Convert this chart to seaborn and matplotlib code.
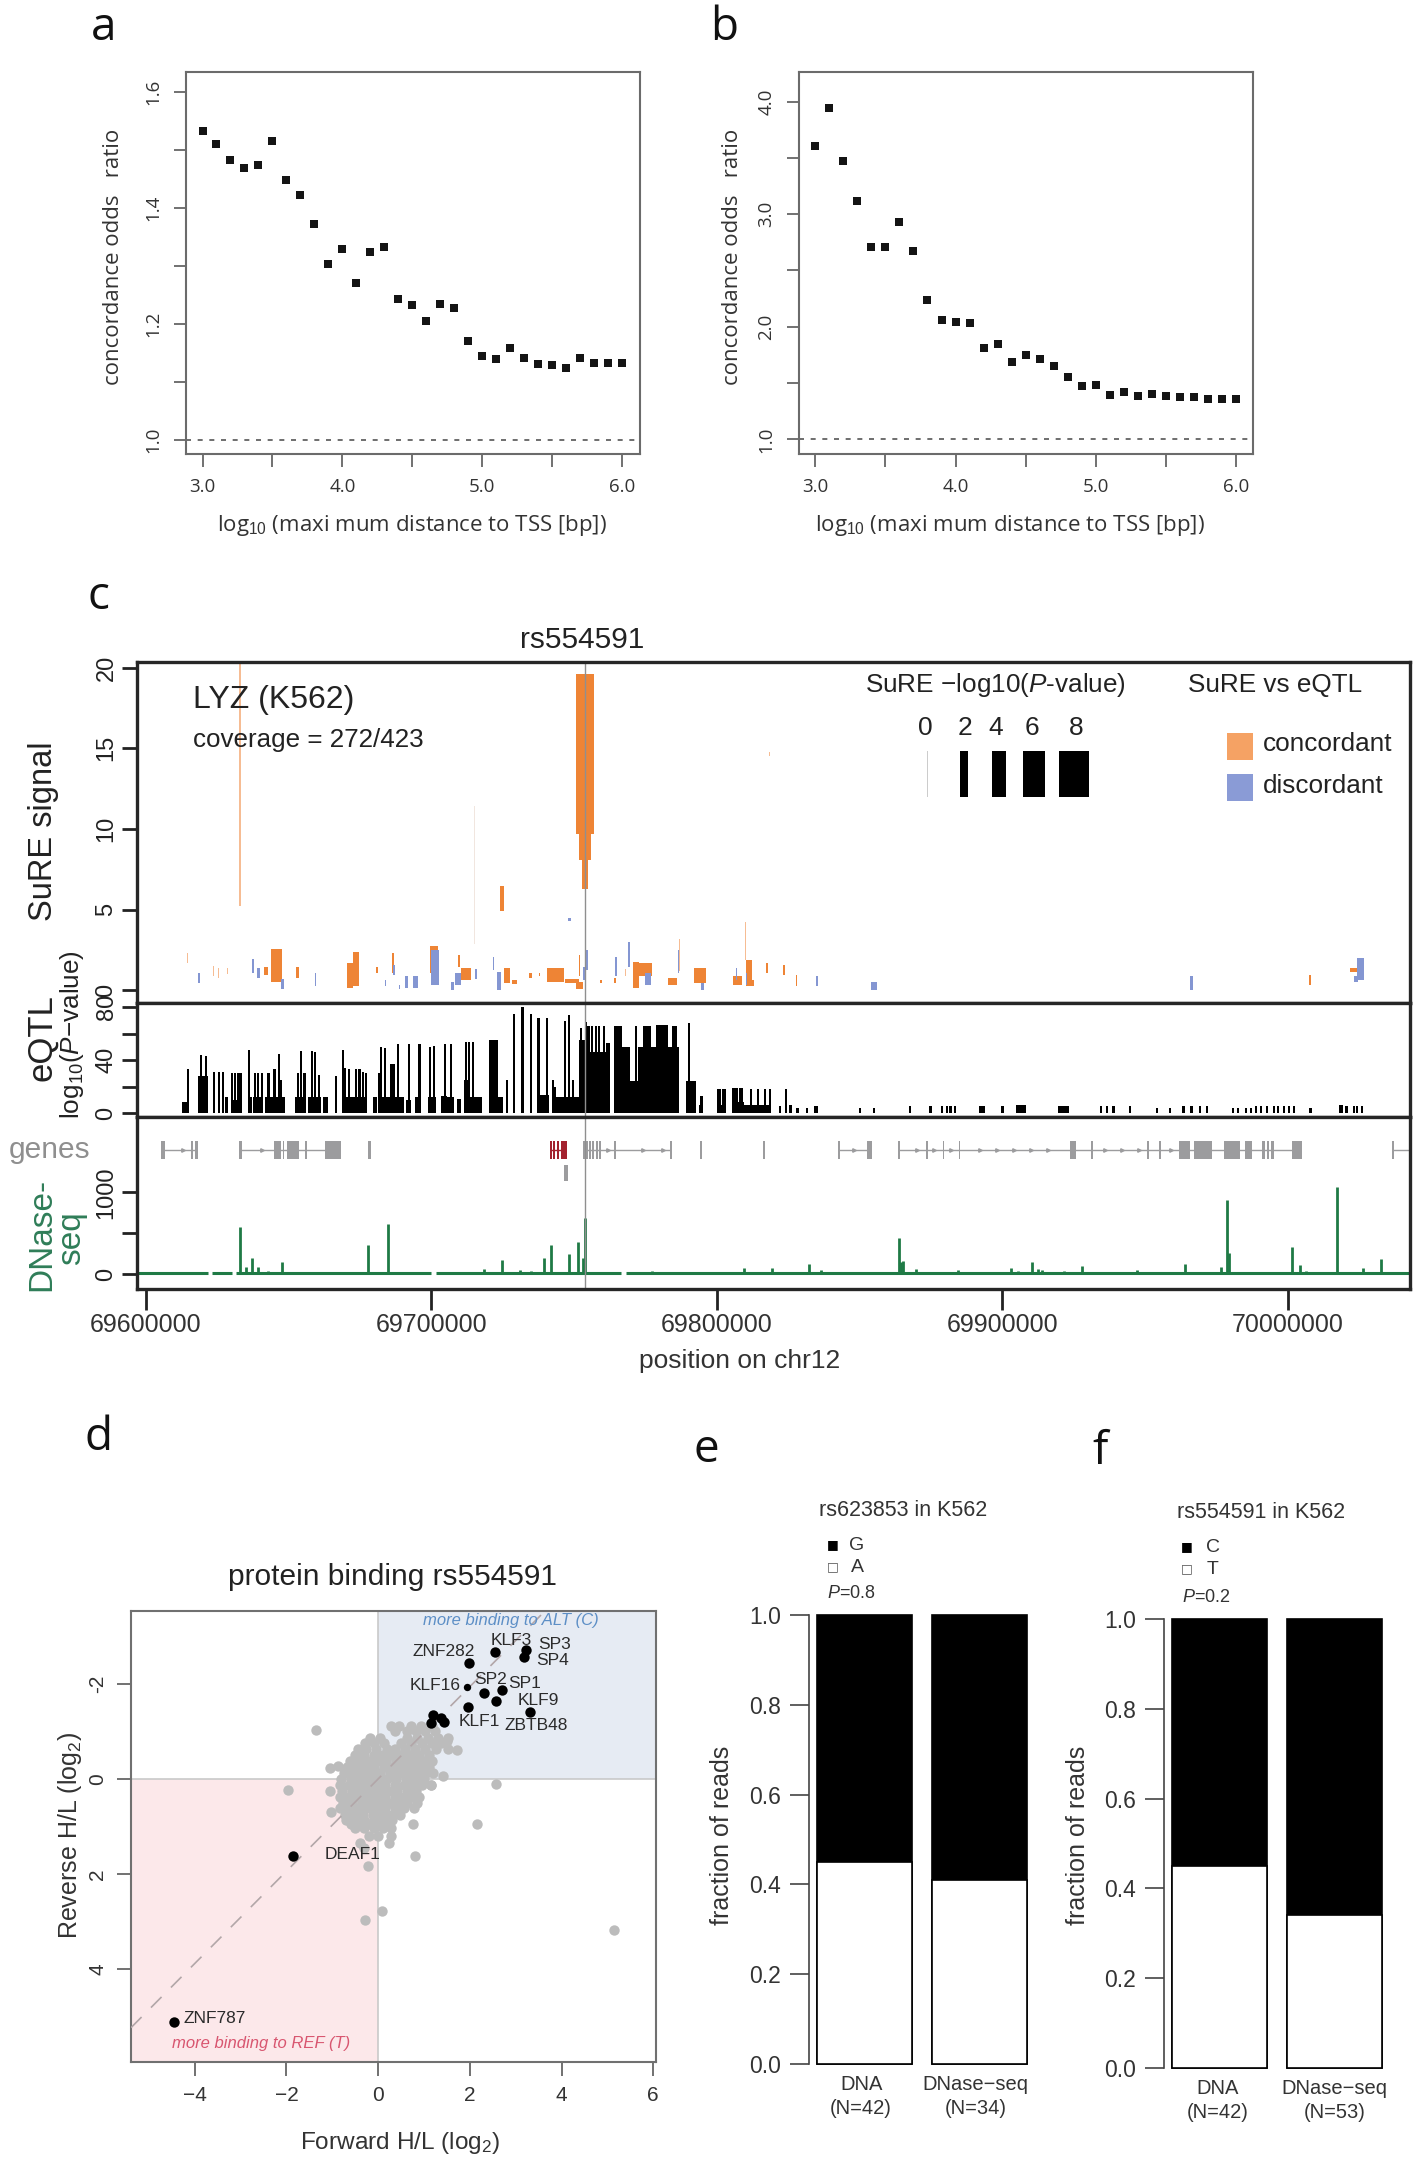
import matplotlib
matplotlib.use('Agg')
import matplotlib.pyplot as plt
import numpy as np
import pandas as pd
import seaborn as sns

W, H = 1428, 2162

dist = [3.0, 3.1, 3.2, 3.3, 3.4, 3.5, 3.6, 3.7, 3.8, 3.9, 4.0, 4.1, 4.2, 4.3, 4.4, 4.5,
        4.6, 4.7, 4.8, 4.9, 5.0, 5.1, 5.2, 5.3, 5.4, 5.5, 5.6, 5.7, 5.8, 5.9, 6.0]
odds_a = [1.533, 1.510, 1.483, 1.469, 1.474, 1.516, 1.448, 1.422, 1.373, 1.303, 1.329,
          1.271, 1.324, 1.332, 1.242, 1.232, 1.205, 1.235, 1.227, 1.170, 1.144, 1.140,
          1.158, 1.141, 1.130, 1.129, 1.124, 1.141, 1.132, 1.132, 1.132]
odds_b = [3.606, 3.940, 3.473, 3.117, 2.711, 2.708, 2.927, 2.670, 2.235, 2.063, 2.044,
          2.038, 1.813, 1.844, 1.686, 1.746, 1.714, 1.651, 1.556, 1.476, 1.483, 1.390,
          1.425, 1.381, 1.403, 1.384, 1.378, 1.378, 1.359, 1.362, 1.362]

# panel c: everything in kb after 69,600,000
rs_kb = 153.75

con_kb = [153.7, 153.7, 153.7, 124.8, 45.7, 53.1, 42.1, 73.5, 71.4, 86.5, 81.0, 100.8,
          109.7, 112.1, 126.5, 129.0, 134.6, 137.8, 143.4, 149.1, 151.8, 151.8, 171.6, 174.8,
          164.3, 184.4, 194.1, 159.5, 211.2, 207.1, 212.3, 217.4, 223.4, 227.9, 407.7, 423.0]
con_wd = [6.4, 2.2, 4.0, 1.3, 3.9, 0.8, 1.3, 1.9, 1.9, 0.5, 0.6, 2.9,
          0.6, 3.5, 2.2, 1.9, 1.0, 0.6, 6.1, 4.8, 2.2, 0.6, 2.2, 4.8,
          1.0, 3.2, 4.2, 0.6, 2.3, 3.2, 1.6, 0.6, 0.6, 0.5, 0.5, 2.3]
con_lo = [9.7, 6.3, 8.1, 4.9, 0.55, 0.76, 0.97, 0.25, 0.15, 1.07, 1.07, 1.07,
          1.48, 0.66, 0.45, 0.41, 0.76, 0.87, 0.55, 0.49, 0.08, 0.87, 0.14, 0.87,
          0.45, 0.35, 0.45, 0.45, 0.25, 0.35, 0.25, 1.07, 0.97, 0.25, 0.35, 1.17]
con_hi = [19.6, 9.7, 9.7, 6.5, 2.55, 1.48, 1.48, 2.4, 1.7, 2.29, 1.48, 2.76,
          2.2, 1.38, 1.38, 0.62, 1.07, 1.07, 1.38, 0.70, 0.55, 2.19, 1.79, 1.69,
          0.76, 0.76, 1.38, 0.66, 1.9, 0.87, 0.66, 1.69, 1.59, 0.97, 0.97, 1.38]

faint_kb = [32.8, 209.9, 14.5, 23.5, 25.5, 28.5, 218.5, 168.0, 187.0]
faint_wd = [0.7, 0.35, 0.25, 0.3, 0.3, 0.3, 0.4, 0.3, 0.3]
faint_lo = [5.2, 1.9, 1.7, 0.9, 0.8, 1.0, 14.5, 0.9, 1.2]
faint_hi = [20.35, 4.27, 2.3, 1.5, 1.4, 1.4, 14.8, 1.3, 3.2]
pale_kb = [115.0]
pale_wd = [0.2]
pale_lo = [2.9]
pale_hi = [11.4]

dis_kb = [18.5, 37.6, 39.4, 47.8, 59.5, 86.8, 83.9, 88.8, 91.2, 94.4, 101.3, 107.3, 109.3, 115.6,
          123.7, 121.7, 154.4, 153.4, 169.2, 164.7, 175.9, 186.5, 194.9, 206.8, 210.4, 235.1,
          255.0, 366.2, 425.4, 423.8, 148.3]
dis_wd = [0.8, 0.6, 1.0, 1.3, 0.3, 0.6, 0.6, 0.6, 1.3, 1.9, 2.9, 1.0, 1.9, 1.0,
          1.6, 0.3, 1.0, 0.5, 0.5, 0.5, 2.3, 0.5, 1.0, 0.5, 0.5, 0.5,
          2.3, 1.0, 2.3, 1.6, 1.3]
dis_lo = [0.45, 1.07, 0.76, 0.08, 0.25, 0.97, 0.25, 0.08, 0.14, 0.14, 0.35, 0.04, 0.35, 0.70,
          0.04, 1.28, 1.28, 0.66, 1.48, 0.87, 0.35, 1.07, 0.04, 0.66, 0.35, 0.25,
          0.04, 0.0, 0.66, 0.55, 4.3]
dis_hi = [1.07, 1.94, 1.38, 0.70, 1.07, 1.59, 0.66, 0.35, 0.87, 0.87, 2.52, 0.55, 1.07, 1.32,
          1.17, 2.1, 2.52, 1.48, 3.0, 2.1, 1.07, 2.52, 0.45, 1.38, 1.07, 0.87,
          0.55, 0.87, 2.0, 0.87, 4.5]

pval_labels = ['0', '2', '4', '6', '8']
pval_kb = [273.7, 286.5, 298.8, 311.0, 325.1]
pval_wd = [0.1, 2.6, 5.2, 7.8, 10.4]

# dense parts of the eQTL track
block_kb = [13.9, 19.8, 28.1, 32.0, 36.7, 39.2, 45.2, 53.9, 59.0, 63.0, 73.0, 80.2, 85.9, 92.0,
            95.4, 100.2, 104.4, 106.8, 109.7, 112.6, 115.1, 121.7, 122.5, 139.4, 143.8, 148.3,
            153.1, 157.9, 161.9, 165.3, 167.9, 170.9, 179.6, 175.4, 180.7, 185.2, 190.9, 194.4,
            201.5, 207.5, 214.0, 222.1, 225.8, 234.7, 292.7, 306.5, 321.4]
block_wd = [2.4, 3.5, 1.0, 3.0, 1.0, 3.7, 6.8, 3.7, 4.8, 1.8, 8.8, 1.6, 8.8, 1.6,
            2.1, 2.9, 2.4, 2.4, 1.6, 2.1, 5.1, 3.2, 4.8, 3.2, 2.4, 6.4,
            3.2, 6.4, 1.6, 2.7, 3.0, 3.0, 14.5, 2.9, 4.0, 1.6, 3.2, 1.6,
            3.2, 4.0, 9.0, 0.8, 0.8, 1.3, 2.1, 3.2, 3.7]
block_val = [8, 28, 12, 10, 12, 12, 12, 12, 12, 12, 12, 12, 12, 10,
             12, 12, 13, 12, 11, 25, 12, 55, 12, 14, 12, 12,
             55, 46, 53, 66, 50, 24, 50, 66, 67, 66, 24, 6,
             6, 8, 6, 5, 6, 5, 5, 6, 5]
line_kb = [14.8, 19.3, 20.9, 23.8, 25.7, 27.0, 30.2, 31.2, 32.2, 33.1, 36.2, 38.1, 39.2, 40.5,
           42.9, 45.0, 46.5, 47.4, 53.1, 54.2, 55.5, 58.2, 59.2, 60.6, 66.7, 69.1, 69.8, 71.1,
           73.5, 74.8, 75.9, 77.0, 81.5, 82.2, 83.6, 86.0, 87.0, 88.4, 92.0, 95.8, 99.4, 100.8,
           104.8, 106.8, 112.1, 113.2, 114.5, 126.5, 129.0, 131.9, 134.9, 137.5, 140.5, 142.6,
           143.4, 146.7, 148.3, 149.5, 152.3, 154.0, 155.0, 156.3, 157.6, 158.7, 160.3, 171.6,
           190.1, 194.6, 200.3, 201.0, 202.3, 202.9, 205.5, 206.3, 207.1, 208.0, 208.8, 212.0,
           214.4, 216.9, 218.5, 224.2, 228.2, 231.5, 250.1, 255.0, 267.7, 274.8, 278.9, 280.7,
           281.8, 283.4, 300.0, 334.5, 336.5, 338.9, 344.8, 354.0, 358.6, 363.4, 366.2, 369.1,
           371.6, 380.8, 382.5, 385.3, 387.0, 388.9, 390.5, 392.8, 395.0, 396.5, 398.5, 400.5,
           402.0, 407.9, 418.1, 419.0, 420.5, 423.0, 424.3, 425.9]
line_val = [33, 44, 43, 31, 31, 31, 30, 30, 30, 30, 48, 30, 30, 30,
            30, 33, 45, 25, 30, 47, 30, 47, 46, 29, 28, 48, 34, 33,
            33, 33, 31, 30, 30, 50, 49, 37, 37, 52, 52, 52, 50, 51,
            52, 52, 54, 54, 54, 25, 75, 80, 75, 72, 72, 25,
            20, 70, 74, 25, 64, 69, 66, 66, 66, 66, 66, 66,
            68, 13, 18, 18, 18, 18, 19, 19, 19, 19, 19, 18,
            18, 18, 18, 18, 4, 4, 4, 4, 5, 5, 5, 5,
            5, 5, 5, 5, 5, 5, 5, 4, 4, 5, 5, 5,
            5, 4, 4, 4, 4, 5, 5, 5, 5, 5, 5, 5,
            5, 4, 6, 6, 5, 5, 5, 5]

exon_kb = [5.9, 16.1, 17.7, 33.0, 46.1, 48.2, 49.7, 51.8, 56.1, 65.4, 78.3, 153.4, 154.4, 155.5,
           156.6, 157.9, 159.0, 164.3, 184.0, 194.4, 216.4, 242.8, 253.3, 263.6, 273.6, 279.3,
           285.0, 324.8, 331.3, 351.1, 355.3, 363.7, 370.3, 380.4, 386.2, 391.4, 393.0, 394.6,
           403.0, 436.8]
exon_wd = [1.6, 0.6, 1.0, 1.0, 2.7, 0.6, 0.6, 3.5, 0.6, 5.6, 1.3, 0.7, 0.7, 0.7,
           0.7, 0.7, 0.7, 0.7, 0.7, 0.7, 0.6, 0.7, 1.8, 0.7, 0.6, 0.6,
           0.6, 2.1, 0.6, 0.6, 0.6, 4.0, 6.5, 5.6, 2.5, 0.8, 0.8, 0.8,
           3.5, 0.7]
intron_start = [5.9, 33.0, 153.4, 242.8, 263.6, 436.8]
intron_end = [17.7, 65.4, 184.0, 253.3, 403.0, 443.0]
arrow_kb = [13.0, 40.5, 162.0, 174.0, 181.0, 248.0, 270.0, 276.0, 282.0, 292.0, 298.0, 304.0,
            310.0, 316.0, 336.0, 342.0, 348.0, 359.0]
lyz_kb = [141.8, 143.0, 144.4, 146.3]
lyz_wd = [0.7, 0.7, 0.7, 2.2]
lyz2_kb = [147.1]
lyz2_wd = [1.4]

peak_kb = [32.8, 35.2, 37.3, 39.1, 42.9, 47.6, 71.9, 77.7, 84.6, 118.5, 124.6, 131.0, 135.0, 139.3,
           141.8, 148.3, 151.2, 152.9, 153.6, 177.2, 182.0, 209.6, 219.3, 232.3, 236.6, 263.6,
           264.4, 265.2, 269.6, 284.6, 302.9, 305.3, 310.4, 312.3, 314.0, 321.6, 327.7, 347.2,
           364.1, 376.4, 378.5, 379.2, 401.3, 404.2, 406.4, 417.2, 426.2, 432.6]
peak_val = [575, 85, 196, 94, 35, 147, 30, 359, 612, 61, 175, 53, 40, 204,
            359, 249, 400, 196, 682, 40, 33, 73, 73, 127, 53, 449,
            155, 167, 61, 53, 73, 45, 155, 61, 53, 40, 102, 53,
            127, 94, 910, 257, 331, 114, 40, 1061, 73, 184]
base_start = [-3.0, 23.0, 31.5, 101.5, 168.0]
base_end = [21.8, 30.0, 100.0, 166.5, 443.0]

# panel d
blob_rows = {-1.12: [0.28, 0.45, 0.72, 0.94, 1.17],
             -1.0: [0.36, 0.62, 0.82, 1.02, 1.25],
             -0.87: [-0.17, 0.05, 0.63, 0.85, 1.08, 1.3, 1.52],
             -0.75: [-0.28, -0.08, 0.12, 0.5, 0.72, 0.95, 1.18, 1.38],
             -0.62: [-0.44, -0.26, -0.04, 0.19, 0.37, 0.59, 0.81, 1.03, 1.26, 1.52],
             -0.5: [-0.5, -0.3, -0.1, 0.1, 0.3, 0.5, 0.7, 0.9, 1.1],
             -0.37: [-0.61, -0.42, -0.22, -0.03, 0.18, 0.38, 0.58, 0.78, 0.98, 1.17],
             -0.25: [-0.68, -0.48, -0.28, -0.08, 0.12, 0.32, 0.52, 0.72, 0.92, 1.1],
             -0.12: [-0.75, -0.55, -0.35, -0.15, 0.05, 0.25, 0.45, 0.65, 0.85, 1.05],
             0.0: [-0.8, -0.6, -0.4, -0.2, 0.0, 0.2, 0.4, 0.6, 0.8, 1.0],
             0.12: [-0.84, -0.64, -0.44, -0.24, -0.04, 0.16, 0.36, 0.56, 0.76, 0.96, 1.15],
             0.25: [-0.78, -0.58, -0.38, -0.18, 0.02, 0.22, 0.42, 0.62, 0.82],
             0.37: [-0.84, -0.64, -0.44, -0.24, -0.04, 0.16, 0.36, 0.56, 0.76, 0.9],
             0.5: [-0.76, -0.56, -0.36, -0.16, 0.04, 0.24, 0.44, 0.64, 0.84],
             0.62: [-0.84, -0.64, -0.44, -0.24, -0.04, 0.16, 0.36, 0.56, 0.78],
             0.75: [-0.72, -0.52, -0.32, -0.12, 0.08, 0.28, 0.48],
             0.87: [-0.7, -0.5, -0.3, -0.1, 0.1, 0.3],
             0.95: [-0.6, -0.4, -0.2, 0.0, 0.2, 0.77],
             1.04: [-0.5, -0.3, -0.1, 0.1, 0.28],
             1.2: [-0.2, 0.0, 0.28],
             1.35: [-0.39, 0.23],
             1.45: [-0.3]}
outlier_x = [-1.35, -1.96, 2.57, 2.15, 0.81, -0.23, 0.08, -0.28, 5.15, 1.73, 1.42, -1.04, -0.88, -1.04, -1.02, 1.5, 1.15, 1.2]
outlier_y = [-1.03, 0.24, 0.10, 0.94, 1.62, 1.84, 2.78, 2.97, 3.17, -0.61, -0.07, -0.24, -0.27, 0.25, 0.69, -0.8, 0.12, -0.12]
tf_x = [-4.46, -1.86, 2.55, 3.22, 3.19, 1.99, 2.30, 2.71, 2.56, 3.32, 1.97, 1.19, 1.37, 1.43, 1.15]
tf_y = [5.10, 1.62, -2.66, -2.70, -2.56, -2.43, -1.81, -1.86, -1.63, -1.40, -1.51, -1.34, -1.29, -1.20, -1.17]
klf16_xy = [1.93, -1.93]
tf_names = ['ZNF787', 'DEAF1', 'KLF3', 'SP3', 'SP4', 'ZNF282', 'KLF16', 'SP2', 'SP1', 'KLF9', 'KLF1', 'ZBTB48']
tf_label_x = [-3.56, -0.56, 2.9, 3.85, 3.8, 1.42, 1.25, 2.45, 3.2, 3.5, 2.2, 3.45]
tf_label_y = [5.04, 1.58, -2.9, -2.83, -2.5, -2.67, -1.96, -2.08, -2.0, -1.65, -1.2, -1.12]

# panels e, f
assays = ['DNA', 'DNase−seq']
alt_e = [0.45, 0.41]
alt_f = [0.45, 0.34]
assay_labels_e = ['DNA\n(N=42)', 'DNase−seq\n(N=34)']
assay_labels_f = ['DNA\n(N=42)', 'DNase−seq\n(N=53)']

CON = '#ee8435'
DIS = '#8496d2'
GENE = '#9c9c9e'

sns.set_theme(style='ticks')
plt.rcParams['font.family'] = ['Liberation Sans', 'DejaVu Sans']
plt.rcParams['mathtext.fontset'] = 'custom'
plt.rcParams['mathtext.rm'] = 'Liberation Sans'
plt.rcParams['mathtext.it'] = 'Liberation Sans:italic'

fig = plt.figure(figsize=(W / 100, H / 100), dpi=100, facecolor='white')


def add_ax(left, top, right, bottom):
    return fig.add_axes([left / W, 1 - bottom / H, (right - left) / W, (bottom - top) / H])


def put(x, y, s, **kw):
    kw.setdefault('ha', 'center')
    kw.setdefault('va', 'center')
    return fig.text(x / W, 1 - y / H, s, **kw)


def frame(ax, color, lw):
    for sp in ax.spines.values():
        sp.set_visible(True)
        sp.set_color(color)
        sp.set_linewidth(lw)


def rotate_y(ax):
    for lb in ax.get_yticklabels():
        lb.set_rotation(90)
        lb.set_va('center')


def spans(ax, kb, wd, lo, hi, color):
    ax.bar(kb, np.array(hi) - np.array(lo), wd, bottom=lo, color=color, linewidth=0)


def odds_panel(box, odds, xlim, ylim, yticks, ylabels, ylab_x, xlab_x):
    ax = add_ax(*box)
    sns.scatterplot(x=dist, y=odds, marker='s', s=40, color='#141414', linewidth=0, ax=ax, zorder=3)
    ax.axhline(1.0, color='#555555', lw=1.2, ls=(0, (3, 4)))
    ax.set_xlim(*xlim)
    ax.set_ylim(*ylim)
    ax.set_xticks([3.0, 3.5, 4.0, 4.5, 5.0, 5.5, 6.0], ['3.0', '', '4.0', '', '5.0', '', '6.0'],
                  family='Open Sans', fontsize=13.5, color='#333333')
    ax.set_yticks(yticks, ylabels, family='Open Sans', fontsize=13.5, color='#333333')
    ax.tick_params(length=9, width=1.3, color='#666666', pad=8)
    rotate_y(ax)
    frame(ax, '#6b6b6b', 1.5)
    put(ylab_x, 257, 'concordance odds   ratio', rotation=90, family='Open Sans', fontsize=16, color='#333333')
    put(xlab_x, 526, 'log$_{10}$ (maxi mum distance to TSS [bp])', family='Open Sans', fontsize=16, color='#333333')
    return ax


odds_panel((186, 72, 640, 454), odds_a, (2.882, 6.128), (0.975, 1.635),
           [1.0, 1.1, 1.2, 1.3, 1.4, 1.5, 1.6], ['1.0', '', '1.2', '', '1.4', '', '1.6'], 114, 412)
odds_panel((799, 72, 1253, 454), odds_b, (2.883, 6.123), (0.87, 4.263),
           [1.0, 1.5, 2.0, 2.5, 3.0, 3.5, 4.0], ['1.0', '', '2.0', '', '3.0', '', '4.0'], 733, 1010)

# panel c
xlim_c = (-3.15, 442.75)
ax1 = add_ax(137, 662, 1410, 1003)
spans(ax1, pale_kb, pale_wd, pale_lo, pale_hi, '#f1e6df')
spans(ax1, faint_kb, faint_wd, faint_lo, faint_hi, '#f6bc93')
spans(ax1, con_kb, con_wd, con_lo, con_hi, CON)
spans(ax1, dis_kb, dis_wd, dis_lo, dis_hi, DIS)
ax1.bar(pval_kb, 2.89, pval_wd, bottom=11.96, color=['#cccccc', 'black', 'black', 'black', 'black'], linewidth=0)
ax1.bar([383.2], [1.65], [9.1], bottom=[14.27], color='#f5a264', linewidth=0)
ax1.bar([383.2], [1.65], [9.1], bottom=[11.75], color='#8a9bd6', linewidth=0)
ax1.set_xlim(*xlim_c)
ax1.set_ylim(-0.78, 20.35)
ax1.set_xticks([])
ax1.set_yticks([0, 5, 10, 15, 20])

ax2 = add_ax(137, 1003, 1410, 1117)
ax2.bar(block_kb, block_val, block_wd, color='black', linewidth=0)
ax2.bar(line_kb, line_val, 0.75, color='black', linewidth=0)
ax2.set_xlim(*xlim_c)
ax2.set_ylim(-3, 83.3)
ax2.set_xticks([])
ax2.set_yticks([0, 20, 40, 60, 80], ['0', '', '40', '', '80'])

ax3 = add_ax(137, 1117, 1410, 1289)
ax3.hlines([10] * len(base_start), base_start, base_end, color='#1f7a45', lw=2.2)
ax3.vlines(peak_kb, 0, peak_val, color='#1f7a45', lw=2)
ax3.hlines([1522] * len(intron_start), intron_start, intron_end, color=GENE, lw=1)
ax3.plot(arrow_kb, [1522] * len(arrow_kb), ls='', marker='>', ms=2.5, color=GENE)
ax3.bar(exon_kb, 220, exon_wd, bottom=1412, color=GENE, linewidth=0)
ax3.hlines(1522, 141.8, 146.3, color='#a3222e', lw=1)
ax3.bar(lyz_kb, 220, lyz_wd, bottom=1412, color='#a3222e', linewidth=0)
ax3.bar(lyz2_kb, 190, lyz2_wd, bottom=1140, color=GENE, linewidth=0)
ax3.set_xlim(*xlim_c)
ax3.set_ylim(-180, 1922)
ax3.set_yticks([0, 500, 1000], ['0', '', '1000'])
ax3.set_xticks([0, 100, 200, 300, 400], ['69600000', '69700000', '69800000', '69900000', '70000000'])
ax3.tick_params(axis='x', length=15, width=2, color='#222222', labelsize=18, labelcolor='#333333', pad=2)

for ax in (ax1, ax2, ax3):
    ax.axvline(rs_kb, color='#8f8f8f', lw=1)
    ax.tick_params(axis='y', length=11, width=2, color='#222222', labelsize=17, labelcolor='#222222', pad=3)
    rotate_y(ax)
    frame(ax, '#262626', 2.4)

put(582, 640, 'rs554591', fontsize=21.5, color='#222222')
put(193, 700, 'LYZ (K562)', ha='left', fontsize=23, color='#222222')
put(193, 740, 'coverage = 272/423', ha='left', fontsize=18.7, color='#222222')
put(995, 685, 'SuRE −log10($P$-value)', fontsize=18.8, color='#222222')
put(1275, 685, 'SuRE vs eQTL', fontsize=18.8, color='#222222')
for lab, x in zip(pval_labels, [925, 965, 996, 1032, 1076]):
    put(x, 728, lab, fontsize=19, color='#222222')
put(1263, 744, 'concordant', ha='left', fontsize=18.8, color='#222222')
put(1263, 786, 'discordant', ha='left', fontsize=18.8, color='#222222')
put(44, 831, 'SuRE signal', rotation=90, fontsize=23.5, color='#222222')
put(42, 1038, 'eQTL', rotation=90, fontsize=25, color='#222222')
put(72, 1035, 'log$_{10}$($P$−value)', rotation=90, fontsize=18.8, color='#222222')
put(50, 1150, 'genes', fontsize=21.5, color='#8f8f8f')
put(42, 1234, 'DNase-', rotation=90, fontsize=24, color='#2f7d58')
put(72, 1238, 'seq', rotation=90, fontsize=24, color='#2f7d58')
put(740, 1361, 'position on chr12', fontsize=19, color='#333333')

# panel d
ax4 = add_ax(131, 1611, 656, 2062)
ax4.axhspan(-3.53, 0, xmin=5.39 / 11.45, xmax=1, color='#e6ebf3', lw=0, zorder=0)
ax4.axhspan(0, 5.95, xmin=0, xmax=5.39 / 11.45, color='#fce8ea', lw=0, zorder=0)
ax4.hlines(0, -5.39, 6.06, color='#c9c9c9', lw=1.2, zorder=1)
ax4.vlines(0, -3.53, 5.95, color='#c9c9c9', lw=1.2, zorder=1)
grey_x = [x for row in blob_rows.values() for x in row] + outlier_x
grey_y = [y for y, row in blob_rows.items() for _ in row] + outlier_y
sns.scatterplot(x=grey_x, y=grey_y, s=56, color='#bcbcbc', linewidth=0, ax=ax4, zorder=2)
ax4.axline((0, 0), slope=-0.97, color='#b2a6a8', lw=1.2, ls=(0, (9, 8)), zorder=3)
sns.scatterplot(x=tf_x, y=tf_y, s=56, color='black', linewidth=0, ax=ax4, zorder=4)
sns.scatterplot(x=[klf16_xy[0]], y=[klf16_xy[1]], s=28, color='black', linewidth=0, ax=ax4, zorder=4)
for name, x, y in zip(tf_names, tf_label_x, tf_label_y):
    ax4.text(x, y, name, ha='center', va='center', fontsize=12.5, color='#2b2b2b', zorder=5)
ax4.text(2.9, -3.34, 'more binding to ALT (C)', ha='center', va='center', style='italic', fontsize=12, color='#5d8fc6')
ax4.text(-2.55, 5.56, 'more binding to REF (T)', ha='center', va='center', style='italic', fontsize=12, color='#d85670')
ax4.set_xlim(-5.39, 6.06)
ax4.set_ylim(5.95, -3.53)
ax4.set_xticks([-4, -2, 0, 2, 4, 6], ['−4', '−2', '0', '2', '4', '6'])
ax4.set_yticks([-2, 0, 2, 4], ['-2', '0', '2', '4'])
ax4.tick_params(length=10, width=1.3, color='#666666', labelsize=15, labelcolor='#333333', pad=7)
rotate_y(ax4)
frame(ax4, '#707070', 1.5)
put(392, 1577, 'protein binding rs554591', fontsize=21.5, color='#222222')
put(400, 2143, 'Forward H/L (log$_{2}$)', fontsize=17.6, color='#333333')
put(70, 1835, 'Reverse H/L (log$_{2}$)', rotation=90, fontsize=18, color='#333333')


def read_panel(box, alt, ticks, labels, xlim):
    ax = add_ax(*box)
    df = pd.DataFrame({'assay': assays, 'total': [1.0, 1.0], 'alt': alt})
    sns.barplot(data=df, x='assay', y='total', color='black', saturation=1, width=0.83,
                edgecolor='black', linewidth=1.2, ax=ax, clip_on=False)
    sns.barplot(data=df, x='assay', y='alt', color='white', saturation=1, width=0.83,
                edgecolor='black', linewidth=1.2, ax=ax, clip_on=False)
    ax.set_xlim(*xlim)
    ax.set_ylim(0, 1)
    ax.set_xlabel('')
    ax.set_ylabel('')
    ax.set_xticks(ticks, labels, linespacing=1.35)
    ax.set_yticks([0, 0.2, 0.4, 0.6, 0.8, 1.0], ['0.0', '0.2', '0.4', '0.6', '0.8', '1.0'])
    ax.tick_params(axis='x', length=0, labelsize=14.5, labelcolor='#333333', pad=8)
    ax.tick_params(axis='y', length=14, width=1.2, color='#444444', labelsize=16.5, labelcolor='#333333', pad=6)
    for s in ('top', 'right', 'bottom'):
        ax.spines[s].set_visible(False)
    ax.spines['left'].set_color('#444444')
    ax.spines['left'].set_linewidth(1.2)
    ax.patch.set_alpha(0)
    return ax


read_panel((809, 1615, 1035, 2064), alt_e, [-0.03, 0.97], assay_labels_e, (-0.485, 1.489))
read_panel((1164, 1619, 1392, 2068), alt_f, [-0.02, 1.0], assay_labels_f, (-0.485, 1.5))

put(903, 1510, 'rs623853 in K562', fontsize=15.5, color='#333333')
put(1261, 1512, 'rs554591 in K562', fontsize=15.5, color='#333333')
put(722, 1835, 'fraction of reads', rotation=90, fontsize=18, color='#333333')
put(1078, 1835, 'fraction of reads', rotation=90, fontsize=18, color='#333333')
put(833, 1545, '■', fontsize=9, color='black', family='DejaVu Sans')
put(833, 1567, '□', fontsize=9, color='#555555', family='DejaVu Sans')
put(857, 1545, 'G', fontsize=14, color='#333333')
put(857, 1567, 'A', fontsize=14, color='#333333')
put(851, 1594, '$P$=0.8', fontsize=13, color='#333333')
put(1187, 1547, '■', fontsize=9, color='black', family='DejaVu Sans')
put(1187, 1569, '□', fontsize=9, color='#555555', family='DejaVu Sans')
put(1213, 1547, 'C', fontsize=14, color='#333333')
put(1213, 1569, 'T', fontsize=14, color='#333333')
put(1206, 1597, '$P$=0.2', fontsize=13, color='#333333')

for letter, x, y in [('a', 104, 28), ('b', 724, 28), ('c', 99, 597), ('d', 99, 1438), ('e', 706, 1450), ('f', 1100, 1452)]:
    put(x, y, letter, family='Open Sans', fontsize=33, color='#111111')

fig.savefig('out.png', dpi=100)
